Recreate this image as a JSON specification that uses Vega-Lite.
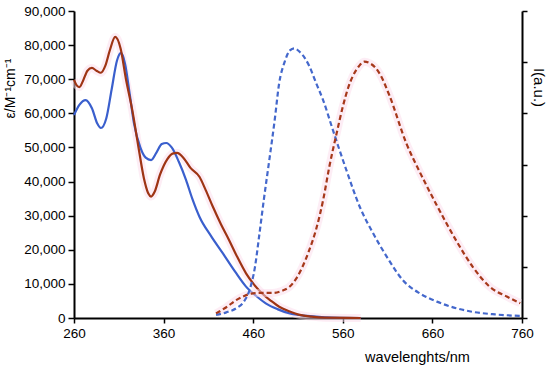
{
  "$schema": "https://vega.github.io/schema/vega-lite/v6.json",
  "width": 448,
  "height": 307,
  "autosize": "none",
  "padding": {"left": 74, "top": 11, "right": 28, "bottom": 51},
  "background": "white",
  "config": {
    "view": {"stroke": null},
    "font": "Liberation Sans",
    "axis": {"grid": false, "domainColor": "black", "tickColor": "black", "domainWidth": 2, "tickWidth": 1.5, "labelColor": "black", "titleColor": "black", "labelFontSize": 13.5, "titleFontWeight": "normal", "titleFontSize": 14.5, "labelFlush": false}
  },
  "datasets": {
    "abs": [
      {"wl": 260, "v": 59500, "s": "blue"}, {"wl": 266, "v": 62500, "s": "blue"}, {"wl": 273, "v": 63900, "s": "blue"}, {"wl": 280, "v": 61500, "s": "blue"}, {"wl": 286, "v": 57000, "s": "blue"}, {"wl": 290, "v": 55700, "s": "blue"}, {"wl": 296, "v": 58500, "s": "blue"}, {"wl": 302, "v": 67000, "s": "blue"}, {"wl": 308, "v": 75500, "s": "blue"}, {"wl": 312.6, "v": 77700, "s": "blue"}, {"wl": 317, "v": 74500, "s": "blue"}, {"wl": 322, "v": 66000, "s": "blue"}, {"wl": 327, "v": 57000, "s": "blue"}, {"wl": 334, "v": 50000, "s": "blue"}, {"wl": 340, "v": 47000, "s": "blue"}, {"wl": 346, "v": 46300, "s": "blue"}, {"wl": 352, "v": 48500, "s": "blue"}, {"wl": 358, "v": 51000, "s": "blue"}, {"wl": 363, "v": 51300, "s": "blue"}, {"wl": 369, "v": 50000, "s": "blue"}, {"wl": 377, "v": 45800, "s": "blue"}, {"wl": 385, "v": 40500, "s": "blue"}, {"wl": 392, "v": 35000, "s": "blue"}, {"wl": 400, "v": 29700, "s": "blue"}, {"wl": 413, "v": 24000, "s": "blue"}, {"wl": 426, "v": 19000, "s": "blue"}, {"wl": 440, "v": 13500, "s": "blue"}, {"wl": 452, "v": 9200, "s": "blue"}, {"wl": 464, "v": 6300, "s": "blue"}, {"wl": 474, "v": 4300, "s": "blue"}, {"wl": 487, "v": 2600, "s": "blue"}, {"wl": 500, "v": 1400, "s": "blue"}, {"wl": 520, "v": 600, "s": "blue"}, {"wl": 540, "v": 200, "s": "blue"}, {"wl": 580, "v": 0, "s": "blue"},
      {"wl": 260, "v": 69800, "s": "red"}, {"wl": 263, "v": 68200, "s": "red"}, {"wl": 266, "v": 67700, "s": "red"}, {"wl": 270, "v": 69500, "s": "red"}, {"wl": 275, "v": 72500, "s": "red"}, {"wl": 280, "v": 73300, "s": "red"}, {"wl": 285, "v": 72500, "s": "red"}, {"wl": 290, "v": 71900, "s": "red"}, {"wl": 295, "v": 74000, "s": "red"}, {"wl": 300, "v": 78500, "s": "red"}, {"wl": 306, "v": 82400, "s": "red"}, {"wl": 312, "v": 79000, "s": "red"}, {"wl": 318, "v": 70000, "s": "red"}, {"wl": 325, "v": 61000, "s": "red"}, {"wl": 332, "v": 50000, "s": "red"}, {"wl": 338, "v": 41000, "s": "red"}, {"wl": 343, "v": 36500, "s": "red"}, {"wl": 346, "v": 35600, "s": "red"}, {"wl": 350, "v": 37000, "s": "red"}, {"wl": 356, "v": 42000, "s": "red"}, {"wl": 364, "v": 46500, "s": "red"}, {"wl": 370, "v": 48200, "s": "red"}, {"wl": 375, "v": 48400, "s": "red"}, {"wl": 382, "v": 47000, "s": "red"}, {"wl": 390, "v": 44000, "s": "red"}, {"wl": 400, "v": 41400, "s": "red"}, {"wl": 407, "v": 37500, "s": "red"}, {"wl": 415, "v": 32600, "s": "red"}, {"wl": 424, "v": 27500, "s": "red"}, {"wl": 433, "v": 22900, "s": "red"}, {"wl": 442, "v": 18000, "s": "red"}, {"wl": 452, "v": 13100, "s": "red"}, {"wl": 461, "v": 9800, "s": "red"}, {"wl": 470, "v": 7200, "s": "red"}, {"wl": 480, "v": 5000, "s": "red"}, {"wl": 489, "v": 3300, "s": "red"}, {"wl": 500, "v": 2000, "s": "red"}, {"wl": 512, "v": 900, "s": "red"}, {"wl": 525, "v": 400, "s": "red"}, {"wl": 540, "v": 100, "s": "red"}, {"wl": 580, "v": 0, "s": "red"}
    ],
    "em": [
      {"wl": 418.5, "v": 0.06, "s": "blue"}, {"wl": 430, "v": 0.11, "s": "blue"}, {"wl": 441, "v": 0.19, "s": "blue"}, {"wl": 450, "v": 0.33, "s": "blue"}, {"wl": 456, "v": 0.55, "s": "blue"}, {"wl": 462, "v": 1.0, "s": "blue"}, {"wl": 467, "v": 1.65, "s": "blue"}, {"wl": 472, "v": 2.33, "s": "blue"}, {"wl": 478, "v": 3.09, "s": "blue"}, {"wl": 484, "v": 3.87, "s": "blue"}, {"wl": 489, "v": 4.59, "s": "blue"}, {"wl": 495, "v": 5.0, "s": "blue"}, {"wl": 501, "v": 5.23, "s": "blue"}, {"wl": 506, "v": 5.27, "s": "blue"}, {"wl": 512, "v": 5.2, "s": "blue"}, {"wl": 518, "v": 5.07, "s": "blue"}, {"wl": 523, "v": 4.91, "s": "blue"}, {"wl": 530, "v": 4.6, "s": "blue"}, {"wl": 538, "v": 4.26, "s": "blue"}, {"wl": 549, "v": 3.67, "s": "blue"}, {"wl": 564, "v": 2.89, "s": "blue"}, {"wl": 579, "v": 2.17, "s": "blue"}, {"wl": 594, "v": 1.65, "s": "blue"}, {"wl": 609, "v": 1.2, "s": "blue"}, {"wl": 627, "v": 0.74, "s": "blue"}, {"wl": 646, "v": 0.48, "s": "blue"}, {"wl": 665, "v": 0.32, "s": "blue"}, {"wl": 687, "v": 0.19, "s": "blue"}, {"wl": 705, "v": 0.12, "s": "blue"}, {"wl": 730, "v": 0.07, "s": "blue"}, {"wl": 758, "v": 0.04, "s": "blue"},
      {"wl": 418.5, "v": 0.09, "s": "red"}, {"wl": 430, "v": 0.21, "s": "red"}, {"wl": 441, "v": 0.35, "s": "red"}, {"wl": 450, "v": 0.43, "s": "red"}, {"wl": 459.5, "v": 0.48, "s": "red"}, {"wl": 470, "v": 0.49, "s": "red"}, {"wl": 482, "v": 0.49, "s": "red"}, {"wl": 492, "v": 0.53, "s": "red"}, {"wl": 500.5, "v": 0.61, "s": "red"}, {"wl": 508, "v": 0.77, "s": "red"}, {"wl": 515, "v": 1.0, "s": "red"}, {"wl": 522, "v": 1.3, "s": "red"}, {"wl": 530, "v": 1.72, "s": "red"}, {"wl": 538, "v": 2.3, "s": "red"}, {"wl": 545, "v": 2.96, "s": "red"}, {"wl": 553, "v": 3.6, "s": "red"}, {"wl": 560, "v": 4.13, "s": "red"}, {"wl": 566, "v": 4.5, "s": "red"}, {"wl": 571, "v": 4.72, "s": "red"}, {"wl": 578, "v": 4.92, "s": "red"}, {"wl": 584, "v": 5.01, "s": "red"}, {"wl": 590, "v": 4.98, "s": "red"}, {"wl": 596, "v": 4.9, "s": "red"}, {"wl": 602, "v": 4.75, "s": "red"}, {"wl": 612, "v": 4.35, "s": "red"}, {"wl": 631, "v": 3.41, "s": "red"}, {"wl": 646, "v": 2.85, "s": "red"}, {"wl": 665, "v": 2.2, "s": "red"}, {"wl": 687, "v": 1.5, "s": "red"}, {"wl": 705, "v": 1.0, "s": "red"}, {"wl": 724, "v": 0.61, "s": "red"}, {"wl": 743, "v": 0.42, "s": "red"}, {"wl": 758, "v": 0.29, "s": "red"}
    ]
  },
  "layer": [
    {
      "data": {"name": "abs"},
      "encoding": {
        "x": {"field": "wl", "type": "quantitative", "scale": {"domain": [260, 760], "nice": false, "zero": false},
          "axis": {"values": [260, 360, 460, 560, 660, 760], "title": "wavelenghts/nm", "titleX": 343, "titleY": 39, "titleBaseline": "middle", "tickSize": 5, "labelPadding": 3, "labelFlush": false}},
        "y": {"field": "v", "type": "quantitative", "scale": {"domain": [0, 90000], "nice": false},
          "axis": {"orient": "left", "values": [0, 10000, 20000, 30000, 40000, 50000, 60000, 70000, 80000, 90000], "format": ",.0f", "title": "ε/M⁻¹cm⁻¹", "titleX": -64, "titleY": 77, "titleAngle": -90, "titleAlign": "center", "titleBaseline": "middle", "tickSize": 6, "labelPadding": 3, "titleFontSize": 14, "labelFlush": false}}
      },
      "layer": [
        {"transform": [{"filter": "datum.s === 'red'"}], "mark": {"type": "line", "interpolate": "monotone", "strokeWidth": 8, "color": "#fbdcec", "opacity": 0.5}},
        {"mark": {"type": "line", "interpolate": "monotone", "strokeWidth": 2.2},
          "encoding": {"color": {"field": "s", "type": "nominal", "scale": {"domain": ["blue", "red"], "range": ["#3a5fcd", "#9e3414"]}, "legend": null}}}
      ]
    },
    {
      "data": {"name": "em"},
      "encoding": {
        "x": {"field": "wl", "type": "quantitative", "scale": {"domain": [260, 760], "nice": false, "zero": false},
          "axis": {"values": [260, 360, 460, 560, 660, 760], "title": "wavelenghts/nm", "titleX": 343, "titleY": 39, "titleBaseline": "middle", "tickSize": 5, "labelPadding": 3, "labelFlush": false}},
        "y": {"field": "v", "type": "quantitative", "scale": {"domain": [0, 6], "nice": false},
          "axis": {"orient": "right", "values": [0, 1, 2, 3, 4, 5, 6], "labels": false, "title": "I(a.u.)", "titleX": 16, "titleY": 76, "titleAngle": 90, "titleAlign": "center", "titleBaseline": "middle", "tickSize": 5, "titleFontSize": 15}}
      },
      "layer": [
        {"transform": [{"filter": "datum.s === 'red'"}], "mark": {"type": "line", "interpolate": "monotone", "strokeWidth": 8, "color": "#fbdcec", "opacity": 0.5}},
        {"mark": {"type": "line", "interpolate": "monotone", "strokeWidth": 2.2, "strokeDash": [5, 3]},
          "encoding": {"color": {"field": "s", "type": "nominal", "scale": {"domain": ["blue", "red"], "range": ["#4468cc", "#a6381a"]}, "legend": null}}}
      ]
    }
  ],
  "resolve": {"scale": {"y": "independent", "color": "independent"}}
}
